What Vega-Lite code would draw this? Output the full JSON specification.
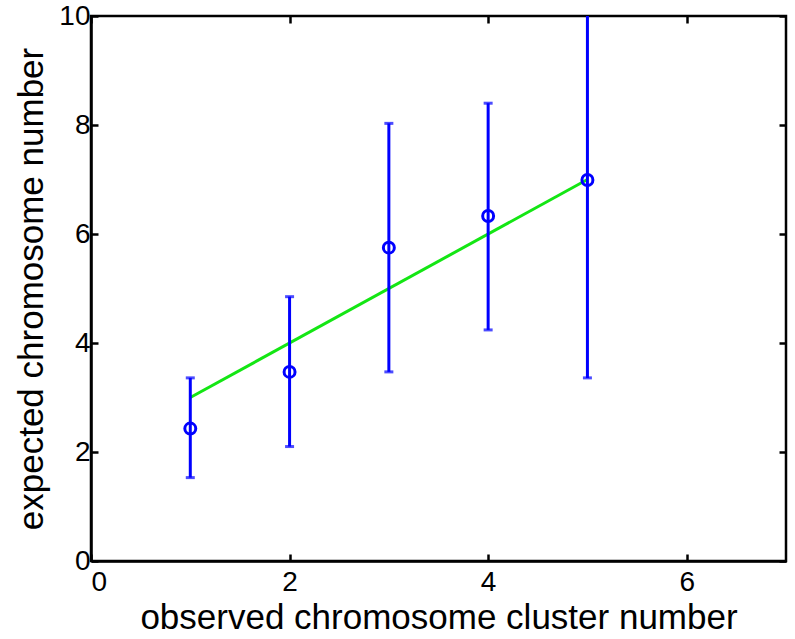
{
  "$schema": "https://vega.github.io/schema/vega-lite/v6.json",
  "width": 695,
  "height": 545,
  "autosize": {"type": "none"},
  "padding": {"left": 91, "top": 16, "right": 9, "bottom": 78},
  "background": "white",
  "config": {
    "view": {"stroke": "black", "strokeWidth": 2.5},
    "axis": {
      "domainColor": "black",
      "domainWidth": 2.5,
      "tickColor": "black",
      "tickWidth": 2.5,
      "tickSize": -7,
      "grid": false,
      "labelFont": "Liberation Sans",
      "labelFontSize": 28,
      "labelColor": "black",
      "titleFont": "Liberation Sans",
      "titleFontSize": 35,
      "titleFontWeight": "normal",
      "titleColor": "black"
    }
  },
  "datasets": {
    "pts": [
      {"cluster": 1, "expected": 2.43, "lo": 1.53, "hi": 3.36},
      {"cluster": 2, "expected": 3.47, "lo": 2.10, "hi": 4.85},
      {"cluster": 3, "expected": 5.75, "lo": 3.47, "hi": 8.03},
      {"cluster": 4, "expected": 6.33, "lo": 4.24, "hi": 8.40},
      {"cluster": 5, "expected": 6.99, "lo": 3.36, "hi": 10.62}
    ],
    "fit": [
      {"cluster": 1, "expected": 3},
      {"cluster": 5, "expected": 7}
    ]
  },
  "resolve": {"axis": {"x": "independent", "y": "independent"}},
  "layer": [
    {
      "data": {"name": "fit"},
      "mark": {"type": "line", "color": "#14e614", "strokeWidth": 3},
      "encoding": {
        "x": {"field": "cluster", "type": "quantitative", "scale": {"domain": [0, 7], "nice": false},
              "axis": {"orient": "top", "labels": false, "title": null, "values": [0, 2, 4, 6], "domain": false, "tickSize": -7}},
        "y": {"field": "expected", "type": "quantitative", "scale": {"domain": [0, 10], "nice": false},
              "axis": {"orient": "right", "labels": false, "title": null, "values": [0, 2, 4, 6, 8, 10], "domain": false, "tickSize": -7}}
      }
    },
    {
      "data": {"name": "pts"},
      "mark": {"type": "rule", "color": "#0000ff", "strokeWidth": 3, "clip": true},
      "encoding": {
        "x": {"field": "cluster", "type": "quantitative", "axis": null},
        "y": {"field": "lo", "type": "quantitative", "axis": null},
        "y2": {"field": "hi"}
      }
    },
    {
      "data": {"name": "pts"},
      "mark": {"type": "tick", "color": "#0000ff", "orient": "horizontal", "size": 9, "thickness": 3, "clip": true},
      "encoding": {
        "x": {"field": "cluster", "type": "quantitative", "axis": null},
        "y": {"field": "lo", "type": "quantitative", "axis": null}
      }
    },
    {
      "data": {"name": "pts"},
      "mark": {"type": "tick", "color": "#0000ff", "orient": "horizontal", "size": 9, "thickness": 3, "clip": true},
      "encoding": {
        "x": {"field": "cluster", "type": "quantitative", "axis": null},
        "y": {"field": "hi", "type": "quantitative", "axis": null}
      }
    },
    {
      "data": {"name": "pts"},
      "mark": {"type": "point", "shape": "circle", "filled": false, "color": "#0000ff", "strokeWidth": 3, "size": 120, "opacity": 1},
      "encoding": {
        "x": {"field": "cluster", "type": "quantitative",
              "axis": {"orient": "bottom", "title": "observed chromosome cluster number", "values": [0, 2, 4, 6], "tickSize": -7, "labelPadding": 14, "titlePadding": 4}},
        "y": {"field": "expected", "type": "quantitative",
              "axis": {"orient": "left", "title": "expected chromosome number", "values": [0, 2, 4, 6, 8, 10], "tickSize": -7, "labelPadding": 8, "titlePadding": 9}}
      }
    }
  ]
}
